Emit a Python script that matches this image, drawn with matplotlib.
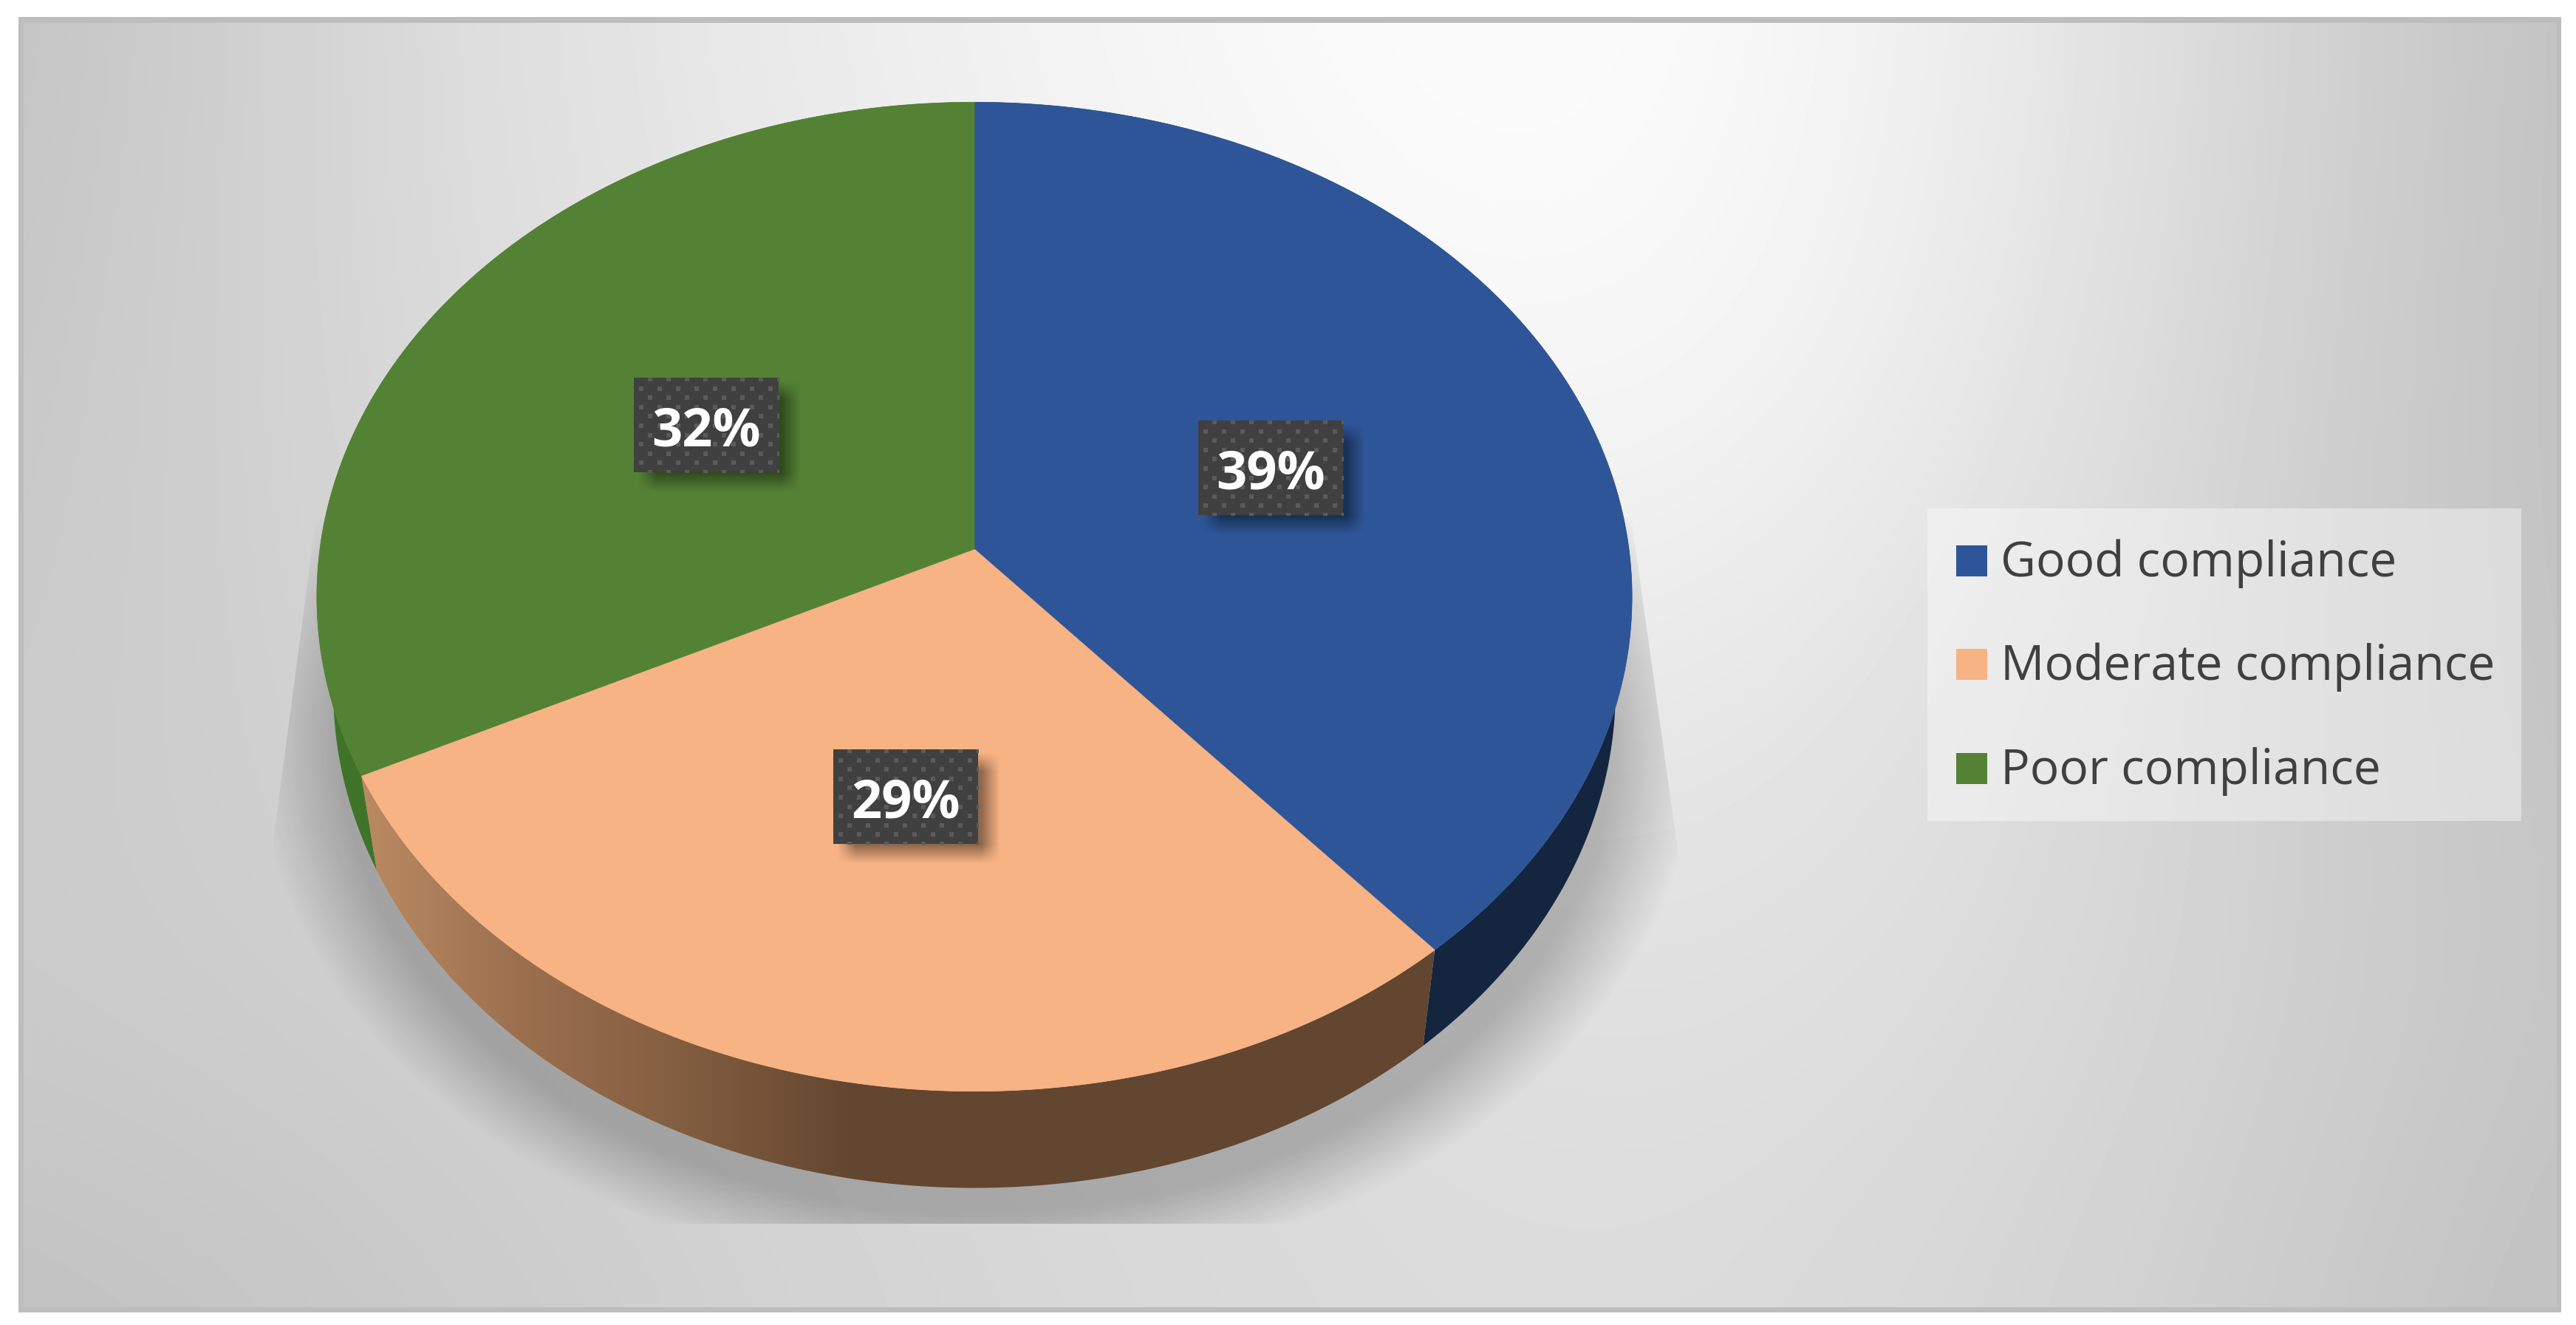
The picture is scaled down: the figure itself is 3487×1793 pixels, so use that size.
import matplotlib
matplotlib.use('Agg')
import matplotlib.pyplot as plt
import numpy as np
from matplotlib.colors import LinearSegmentedColormap
from matplotlib.patches import Polygon, Rectangle

categories = ['Good compliance', 'Moderate compliance', 'Poor compliance']
shares = [38.7, 29.0, 32.3]  # labels show these rounded

top_colors = ['#2e5597', '#f7b384', '#548235']
wall_colors = ['#13253f', None, '#3f7428']

W, H = 3487, 1793

# pie geometry in image pixels (perspective disc)
CX, AY = 1319, 743
RX, RY, K = 886, 663, 0.0964

# soft grey card background, control values from left to right, top to bottom
BG_GRID = np.array([
    [0xc0, 0xde, 0xee, 0xfb, 0xfe, 0xe2, 0xbe],
    [0xc4, 0xdc, 0xea, 0xf6, 0xfb, 0xde, 0xbe],
    [0xc8, 0xd6, 0xe2, 0xe8, 0xec, 0xd8, 0xc0],
    [0xcb, 0xd0, 0xd8, 0xdc, 0xe2, 0xd8, 0xc4],
    [0xc0, 0xc8, 0xd4, 0xda, 0xdc, 0xd2, 0xbe],
]) / 255.0


def project(theta):
    """Map clockwise angle from 12 o'clock to the top face of the pie."""
    u, v = np.sin(theta), np.cos(theta)
    s = 1 / (1 + K * v)
    return CX + RX * u * s, AY - RY * v * s


def lower(x, y):
    """Same point on the bottom rim of the pie."""
    return CX + 0.975 * (x - CX), y + 126 + 0.0065 * (y - AY)


fig = plt.figure(figsize=((W + 0.01) / 100, (H + 0.01) / 100), dpi=100, facecolor='white')
ax = fig.add_axes([0, 0, 1, 1])
ax.axis('off')

# card border and background
ax.add_patch(Rectangle((25, 23), 3442, 1753, fc='#bdbdbd', ec='none', zorder=0))
bg_clip = Rectangle((32, 31), 3428, 1738, transform=ax.transData)
dx, dy = 3428 / 6, 1738 / 4
bg = ax.imshow(BG_GRID, cmap='gray', vmin=0, vmax=1, interpolation='bicubic', aspect='auto',
               extent=(32 - dx / 2, 3460 + dx / 2, 1769 + dy / 2, 31 - dy / 2), zorder=1)
bg.set_clip_path(bg_clip)

# floor shadow
xx, yy = np.meshgrid(np.arange(300, 2340, 3), np.arange(650, 1700, 3))
e = np.sqrt(((xx - 1320) / 978.0) ** 2 + ((yy - 1000) / 730.0) ** 2)
shadow = np.zeros(xx.shape + (4,))
shadow[..., 3] = 0.22 * np.clip((1 - e) / 0.12, 0, 1)
im = ax.imshow(shadow, extent=(300, 2340, 1700, 650), aspect='auto', interpolation='bilinear', zorder=2)
im.set_clip_path(Polygon([(428, 700), (357, 1235), (300, 1656), (2340, 1656), (2283, 1235), (2208, 700)],
                         transform=ax.transData))

# wedges
edges = np.cumsum([0] + shares) / sum(shares) * 2 * np.pi
for i in [2, 0, 1]:
    theta = np.linspace(edges[i], edges[i + 1], 200)
    x, y = project(theta)
    lx, ly = lower(x, y)
    wall = np.column_stack([np.r_[x, lx[::-1]], np.r_[y, ly[::-1]]])
    if wall_colors[i]:
        ax.add_patch(Polygon(wall, fc=wall_colors[i], ec='none', zorder=3))
    else:
        # shaded wall, light on the left and dark from the middle on
        stops = [(0, '#ba8a62'), (0.145, '#9c704f'), (0.28, '#866042'), (0.46, '#634630'), (1, '#624630')]
        cmap = LinearSegmentedColormap.from_list('wall', stops)
        grad = np.linspace(0, 1, 512).reshape(1, -1)
        im = ax.imshow(grad, cmap=cmap, extent=(490, 1940, 1700, 1000), aspect='auto', zorder=3)
        im.set_clip_path(Polygon(wall, transform=ax.transData))

for i in range(3):
    theta = np.linspace(edges[i], edges[i + 1], 300)
    x, y = project(theta)
    face = np.column_stack([np.r_[CX, x], np.r_[AY, y]])
    ax.add_patch(Polygon(face, fc=top_colors[i], ec=top_colors[i], lw=0.5, zorder=4))

# data labels
label_boxes = [(1622, 569), (1128, 1014), (858, 511)]
BOX_W, BOX_H = 196, 128
for (bx, by), share in zip(label_boxes, shares):
    # blurred drop shadow
    sx, sy = np.meshgrid(np.arange(bx - 30, bx + BOX_W + 60), np.arange(by - 30, by + BOX_H + 60))
    ramp_x = np.clip((sx - bx - 5) / 25, 0, 1) * np.clip((bx + BOX_W + 28 - sx) / 25, 0, 1)
    ramp_y = np.clip((sy - by - 5) / 25, 0, 1) * np.clip((by + BOX_H + 26 - sy) / 25, 0, 1)
    rgba = np.zeros(sx.shape + (4,))
    rgba[..., 3] = 0.42 * ramp_x * ramp_y
    ax.imshow(rgba, extent=(bx - 30, bx + BOX_W + 60, by + BOX_H + 60, by - 30), aspect='auto', zorder=5)

    box = Rectangle((bx, by), BOX_W, BOX_H, fc='#404040', ec='none', zorder=6)
    ax.add_patch(box)
    # dotted fill of the label box
    for row in range(11):
        ry = by + 2 + row * 12.6
        rx = np.arange(bx + (22 if row % 2 == 0 else 10), bx + BOX_W + 6, 25)
        dots, = ax.plot(rx, np.full(rx.shape, ry), ls='none', marker='s', ms=4.3, mew=0, color='#5b5b5b', zorder=7)
        dots.set_clip_path(box)
    ax.text(bx + BOX_W / 2, by + 92, f'{share:.0f}%', color='white', fontsize=52, fontweight='bold',
            family='Open Sans', ha='center', va='baseline', zorder=8)

# legend
ax.add_patch(Rectangle((2609, 688), 804, 423, fc='white', alpha=0.4, ec='none', zorder=2))
for name, color, top in zip(categories, top_colors, [738, 878, 1019]):
    ax.add_patch(Rectangle((2648, top), 42, 42, fc=color, ec='none', zorder=3))
    ax.text(2708, top + 42, name, color='#404040', fontsize=47.5, family='Open Sans',
            ha='left', va='baseline', zorder=3)

ax.set_xlim(0, W)
ax.set_ylim(H, 0)
fig.savefig('out.png', dpi=100, facecolor='white')
